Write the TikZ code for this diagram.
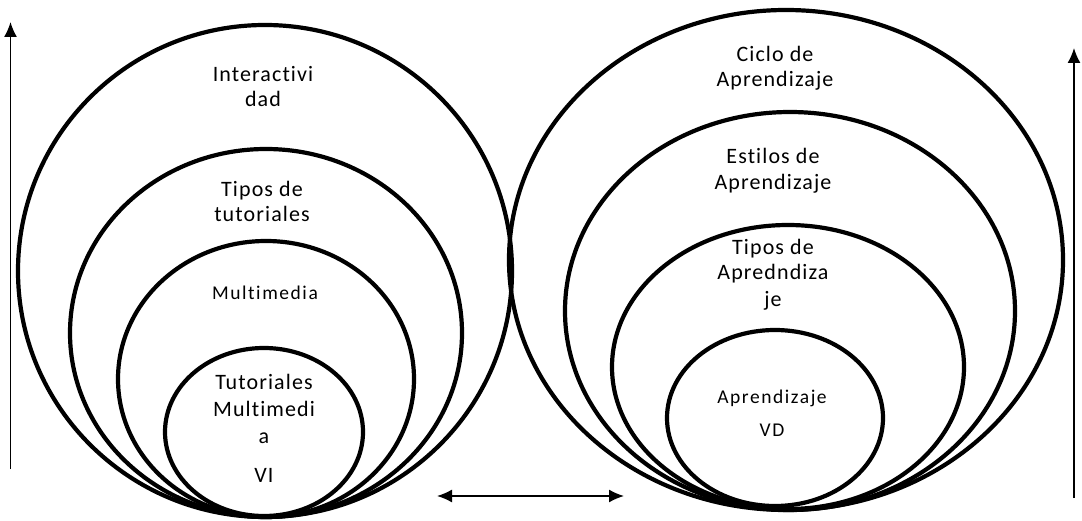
\documentclass[tikz,border=0pt]{standalone}
\usepackage{fontspec}
\setmainfont{Carlito}
\newfontfamily\bigf[LetterSpace=5,Ligatures=NoCommon]{Carlito}
\newfontfamily\smallf[LetterSpace=8,Ligatures=NoCommon]{Carlito}
\usetikzlibrary{arrows.meta}
\begin{document}
\begin{tikzpicture}[x=1pt,y=-1pt,
  ring/.style={line width=4.2pt},
  big/.style={font=\bigf\fontsize{22}{26}\selectfont, inner sep=0pt, anchor=base},
  small/.style={font=\smallf\fontsize{19.5}{23}\selectfont, inner sep=0pt, anchor=base},
  axis/.style={line width=1.5pt, -{Latex[length=15pt,width=13pt]}},
  both/.style={line width=1.5pt, {Latex[length=15pt,width=13pt]}-{Latex[length=15pt,width=13pt]}}]
\useasboundingbox (0,0) rectangle (1082,521);
\fill[white] (0,0) rectangle (1082,521);
% left group
\draw[ring] (265,271) ellipse [x radius=247, y radius=246];
\draw[ring] (266,333) ellipse [x radius=196, y radius=184];
\draw[ring] (266,379) ellipse [x radius=148, y radius=138];
\draw[ring] (264,432) ellipse [x radius=99, y radius=84];
% right group
\draw[ring] (786,260) ellipse [x radius=277, y radius=250];
\draw[ring] (790,311) ellipse [x radius=225, y radius=199];
\draw[ring] (788,367) ellipse [x radius=176, y radius=142];
\draw[ring] (775,418) ellipse [x radius=108, y radius=88];
% left labels
\node[big] (l1a) at (263,82) {Interactivi};
\node[big] (l1b) at (263,107) {dad};
\node[big] (l2a) at (262,197) {Tipos de};
\node[big] (l2b) at (262,222) {tutoriales};
\node[small] (l3) at (265,300) {Multimedia};
\node[big] (l4a) at (264,389) {Tutoriales};
\node[big] (l4b) at (264,416) {Multimedi};
\node[big] (l4c) at (264,443) {a};
\node[big] (l4d) at (264,482) {VI};
% right labels
\node[big] (r1a) at (775,62) {Ciclo de};
\node[big] (r1b) at (775,87) {Aprendizaje};
\node[big] (r2a) at (773,164) {Estilos de};
\node[big] (r2b) at (773,190) {Aprendizaje};
\node[big] (r3a) at (773,255) {Tipos de};
\node[big] (r3b) at (773,280) {Apredndiza};
\node[big] (r3c) at (773,307) {je};
\node[small] (r4a) at (772,403) {Aprendizaje};
\node[small] (r4b) at (772,436) {VD};
% arrows
\coordinate (la0) at (10.5,469);
\coordinate (la1) at (10.5,22);
\coordinate (ra0) at (1074,498);
\coordinate (ra1) at (1074,48);
\coordinate (ba0) at (437,496);
\coordinate (ba1) at (624,496);
\draw[axis] (la0) -- (la1);
\draw[axis] (ra0) -- (ra1);
\draw[both] (ba0) -- (ba1);
\end{tikzpicture}
\end{document}
